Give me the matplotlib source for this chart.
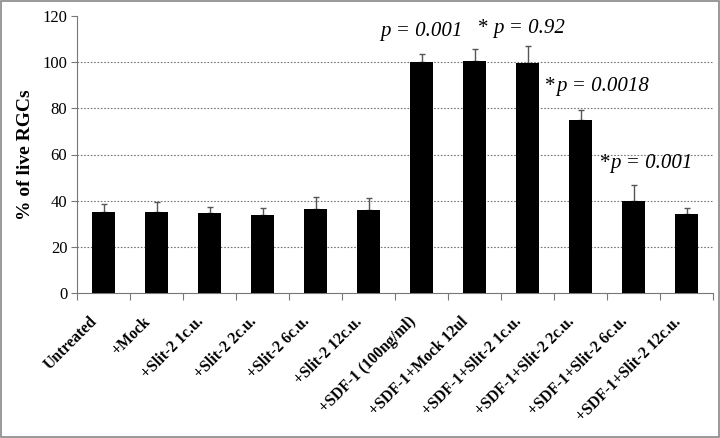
import numpy as np
import matplotlib.pyplot as plt
from matplotlib.patches import Rectangle
from matplotlib.transforms import ScaledTranslation

# data
labels = ['Untreated', '+Mock', '+Slit-2 1c.u.', '+Slit-2 2c.u.', '+Slit-2 6c.u.',
          '+Slit-2 12c.u.', '+SDF-1 (100ng/ml)', '+SDF-1+Mock 12ul',
          '+SDF-1+Slit-2 1c.u.', '+SDF-1+Slit-2 2c.u.', '+SDF-1+Slit-2 6c.u.',
          '+SDF-1+Slit-2 12c.u.']
values = [34.9, 35.0, 34.6, 33.9, 36.5, 35.9, 100.0, 100.6, 99.7, 74.9, 39.8, 34.4]
err_top = [38.5, 39.4, 37.2, 36.8, 41.7, 41.1, 103.6, 105.8, 106.8, 79.2, 46.6, 36.8]
errors = [t - v for t, v in zip(err_top, values)]

plt.rcParams['font.family'] = ['Liberation Serif', 'DejaVu Serif']

fig = plt.figure(figsize=(7.2, 4.38), dpi=100)
ax = fig.add_axes([77/720, 1 - 293/438, 636/720, 277/438])

x = np.arange(len(values))
ax.bar(x, values, width=0.42, color='black', zorder=3)
ax.errorbar(x, values, yerr=[np.zeros(len(errors)), errors], fmt='none',
            ecolor='#555555', elinewidth=1, capsize=2.5, capthick=1, zorder=2)

ax.set_xlim(-0.5, len(values) - 0.5)
ax.set_ylim(0, 120)
ax.set_yticks(range(0, 121, 20))
ax.tick_params(axis='y', labelsize=12, length=4, color='#777777', pad=3)
ax.set_xticks(np.arange(-0.5, len(values), 1.0))
ax.set_xticklabels([])
ax.set_xticks(x, minor=True)
ax.set_xticklabels(labels, minor=True, rotation=45, ha='right',
                   rotation_mode='anchor', fontweight='bold', fontsize=11.3)
ax.tick_params(axis='x', which='major', length=5, color='#777777', direction='out')
ax.tick_params(axis='x', which='minor', length=0, pad=15)
# labels sit a little left of the bar centre in the original
shift = ScaledTranslation(-14/100, 0, fig.dpi_scale_trans)
for lbl in ax.get_xticklabels(minor=True):
    lbl.set_transform(lbl.get_transform() + shift)

for g in range(20, 101, 20):
    ax.axhline(g, color='#777777', linestyle=(0, (1.5, 1.5)), linewidth=0.8, zorder=1)

for s in ['top', 'right']:
    ax.spines[s].set_visible(False)
for s in ['left', 'bottom']:
    ax.spines[s].set_color('#777777')

ax.set_ylabel('% of live RGCs', fontsize=14, fontweight='bold', labelpad=6)

# p-value annotations
ax.text(6.0, 113.5, 'p = 0.001', fontsize=15, style='italic', ha='center', va='center')
ax.text(7.36, 114.5, '* ', fontsize=15, ha='right', va='center')
ax.text(7.36, 114.5, 'p = 0.92', fontsize=15, style='italic', ha='left', va='center')
ax.text(8.33, 89.5, '*', fontsize=15, ha='left', va='center')
ax.text(8.54, 89.5, 'p = 0.0018', fontsize=15, style='italic', ha='left', va='center')
ax.text(9.37, 56, '*', fontsize=15, ha='left', va='center')
ax.text(9.57, 56, 'p = 0.001', fontsize=15, style='italic', ha='left', va='center')

fig.patches.append(Rectangle((1/720, 1/438), 718/720, 436/438, transform=fig.transFigure,
                             fill=False, edgecolor='#888888', linewidth=1.2))

fig.savefig('out.png', dpi=100)
